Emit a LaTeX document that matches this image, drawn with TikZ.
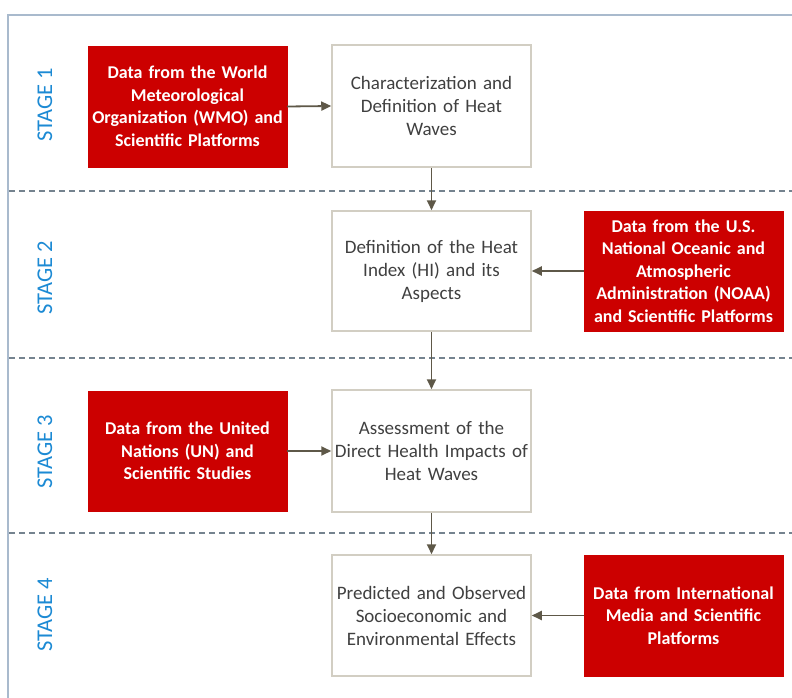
\documentclass[tikz,border=0pt]{standalone}
\usepackage{fontspec}
\setmainfont{Carlito}
\usetikzlibrary{arrows.meta}
\definecolor{datared}{HTML}{CC0000}
\definecolor{boxline}{HTML}{D2CEC3}
\definecolor{arrowc}{HTML}{5E5848}
\definecolor{stageblue}{HTML}{1C8AD4}
\definecolor{framec}{HTML}{A9BACD}
\definecolor{dashc}{HTML}{75838F}
\definecolor{txtgray}{HTML}{404040}
\tikzset{
  databox/.style={fill=datared, draw=datared, text=white, font=\fontsize{18}{22.5}\selectfont\bfseries,
    align=center, minimum width=199pt, text width=199pt, inner sep=0pt},
  procbox/.style={fill=white, draw=boxline, line width=1.5pt, text=txtgray,
    font=\fontsize{19}{23}\selectfont, align=center, minimum width=199pt, text width=199pt, inner sep=0pt},
  stagelabel/.style={text=stageblue, font=\fontsize{22.5}{24}\selectfont, rotate=90},
  flow/.style={draw=arrowc, line width=1.8pt, -{Triangle[length=10pt,width=9pt]}},
  sep/.style={draw=dashc, line width=1.3pt, dash pattern=on 6pt off 4pt}
}
\begin{document}
\begin{tikzpicture}[x=1pt,y=-1pt]
\useasboundingbox (0,0) rectangle (792,698);
\fill[white] (0,0) rectangle (792,698);
% frame
\draw[framec, line width=1.5pt] (8,720) -- (8,15) -- (810,15);
% separators
\draw[sep] (9,191) -- (792,191);
\draw[sep] (9,358) -- (792,358);
\draw[sep] (9,533) -- (792,533);
% stage labels
\node[stagelabel] (s1) at (45,105) {STAGE 1};
\node[stagelabel] (s2) at (45,278) {STAGE 2};
\node[stagelabel] (s3) at (45,452) {STAGE 3};
\node[stagelabel] (s4) at (45,615) {STAGE 4};
% data boxes
\node[databox, minimum height=121pt] (d1) at (187.5,106.5) {Data from the World\\Meteorological\\Organization (WMO) and\\Scientific Platforms};
\node[databox, minimum height=120pt] (d2) at (683.5,271) {Data from the U.S.\\National Oceanic and\\Atmospheric\\Administration (NOAA)\\and Scientific Platforms};
\node[databox, minimum height=120pt] (d3) at (187.5,451) {Data from the United\\Nations (UN) and\\Scientific Studies};
\node[databox, minimum height=121pt] (d4) at (683.5,615.5) {Data from International\\Media and Scientific\\Platforms};
% process boxes
\node[procbox, minimum height=122pt] (a) at (431.5,106) {Characterization and\\Definition of Heat\\Waves};
\node[procbox, minimum height=120pt] (b) at (431.5,271) {Definition of the Heat\\Index (HI) and its\\Aspects};
\node[procbox, minimum height=122pt] (c) at (431.5,451) {Assessment of the\\Direct Health Impacts of\\Heat Waves};
\node[procbox, minimum height=121pt] (d) at (431.5,615.5) {Predicted and Observed\\Socioeconomic and\\Environmental Effects};
% arrows
\draw[flow] (d1.east) -- (a.west);
\draw[flow] (a.south) -- (b.north);
\draw[flow] (d2.west) -- (b.east);
\draw[flow] (b.south) -- (c.north);
\draw[flow] (d3.east) -- (c.west);
\draw[flow] (c.south) -- (d.north);
\draw[flow] (d4.west) -- (d.east);
\end{tikzpicture}
\end{document}
